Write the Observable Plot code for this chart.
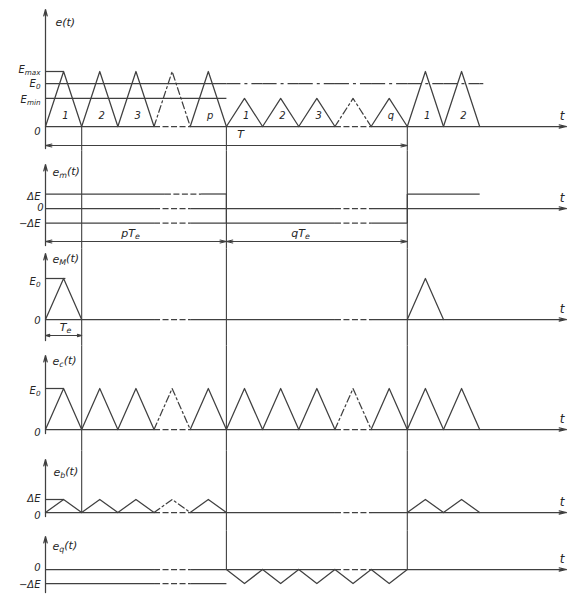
<!DOCTYPE html>
<html><head><meta charset="utf-8">
<script src="https://cdn.jsdelivr.net/npm/d3@7"></script>
<script src="https://cdn.jsdelivr.net/npm/@observablehq/plot@0.6"></script>
<style>
  body { margin: 0; background: #fff; }
  #chart svg { display: block; }
</style>
</head><body>
<div id="chart"></div>
<script>
// One triangular pulse per clock period Tₑ; x is measured in periods.
const periods = [0, 1, 2, 3, 4, 5, 6, 7, 8, 9, 10, 11];
// e(t): pulse heights in units of E_max (p large pulses, q small ones, then large again)
const ePeaks = [1, 1, 1, 1, 1, 0.51, 0.51, 0.51, 0.51, 0.51, 1, 1];
const pulseLabels = ["1", "2", "3", "", "p", "1", "2", "3", "", "q", "1", "2"];
const levelE0 = 0.78;
const levelEmin = 0.51;
// pulses drawn dashed: the elided middle of each group
const elided = [3, 8];
// group boundaries, in periods
const boundaries = [1, 5, 10];
// e_m(t): modulating step, in units of ΔE
const emFrom = [0, 5, 10];
const emTo = [5, 10, 12];
const emLevel = [1, -1, 1];
// e_M(t): pulses opening each group, in units of E₀
const eMPeaks = [1, 0, 0, 0, 0, 0, 0, 0, 0, 0, 1, 0];
// e_c(t): carrier pulses, in units of E₀
const ecPeaks = [1, 1, 1, 1, 1, 1, 1, 1, 1, 1, 1, 1];
// e_b(t) and e_q(t), in units of ΔE
const ebPeaks = [1, 1, 1, 1, 1, 0, 0, 0, 0, 0, 1, 1];
const eqPeaks = [0, 0, 0, 0, 0, -1, -1, -1, -1, -1, 0, 0];

const W = 571, ML = 45, MR = 5, XMAX = 14.4;
const ink = "#404040", lw = 1.25;
const u = px => (px - ML) * XMAX / (W - ML - MR);   // page x → periods

const head = {headLength: 9, headAngle: 26};

function waveMarks(peaks, dashed = elided) {
  const pts = periods.flatMap(i => peaks[i] === 0 ? [] : [
    {x: i, y: 0, k: i, d: dashed.includes(i)},
    {x: i + 0.5, y: peaks[i], k: i, d: dashed.includes(i)},
    {x: i + 1, y: 0, k: i, d: dashed.includes(i)}
  ]);
  return [
    Plot.line(pts.filter(p => !p.d), {x: "x", y: "y", z: "k", stroke: ink, strokeWidth: lw}),
    Plot.line(pts.filter(p => p.d), {x: "x", y: "y", z: "k", stroke: ink, strokeWidth: lw, strokeDasharray: "7,3,2,3"})
  ];
}

// horizontal line from x0 to x1 at level y; dashed across elided periods
function hline(y, x0, x1, {arrow = false, gaps = elided, dash = "6,2.5"} = {}) {
  const pieces = [];
  let start = x0;
  for (const g of gaps) {
    if (g + 1 <= x0 || g >= x1) continue;
    const a = Math.max(g, x0), b = Math.min(g + 1, x1);
    if (a > start) pieces.push({x1: start, x2: a, y, d: false});
    pieces.push({x1: a, x2: b, y, d: true});
    start = b;
  }
  if (start < x1) pieces.push({x1: start, x2: x1, y, d: false});
  const last = arrow ? pieces.pop() : null;
  const marks = [
    Plot.link(pieces.filter(p => !p.d), {x1: "x1", x2: "x2", y1: "y", y2: "y", stroke: ink, strokeWidth: lw}),
    Plot.link(pieces.filter(p => p.d), {x1: "x1", x2: "x2", y1: "y", y2: "y", stroke: ink, strokeWidth: lw, strokeDasharray: dash})
  ];
  if (last) marks.push(Plot.arrow([last], {x1: "x1", x2: "x2", y1: "y", y2: "y", stroke: ink, strokeWidth: lw, ...head}));
  return marks;
}

function label(data, opts) {
  return Plot.text(data, {text: "t", fill: "#262626", fontSize: 11, fontStyle: "italic", ...opts});
}

function panel({height, zero, one, axisTop, axisBottom, title, rules, build}) {
  const v = py => (zero - py) / (zero - one);       // local y → level
  const common = [
    // vertical axis with its arrow
    Plot.arrow([{y1: v(axisBottom), y2: v(axisTop)}], {x1: 0, x2: 0, y1: "y1", y2: "y2", stroke: ink, strokeWidth: lw, headLength: 8, headAngle: 30}),
    label([{x: u(title.x), y: v(title.y), t: title.t}], {x: "x", y: "y", textAnchor: "start"}),
    // group boundaries running through the panels
    Plot.link(rules.map(r => ({x: r.x, y1: v(r.from ?? 0), y2: v(r.to ?? height)})),
      {x1: "x", x2: "x", y1: "y1", y2: "y2", stroke: ink, strokeWidth: 1.1}),
    // time label at the end of the axis
    label([{x: XMAX - 0.12, y: 0, t: "t"}], {x: "x", y: "y", dy: -10, fontSize: 12})
  ];
  const svg = Plot.plot({
    width: W, height,
    marginLeft: ML, marginRight: MR, marginTop: one, marginBottom: height - zero,
    x: {domain: [0, XMAX], axis: null},
    y: {domain: [0, 1], axis: null},
    style: {background: "white", overflow: "visible", fontFamily: "DejaVu Sans, sans-serif"},
    marks: [...common, ...build(v)]
  });
  subscripts(svg);
  return svg;
}

// rewrite "X_sub rest" labels into tspans with a lowered subscript
function subscripts(svg) {
  const ns = "http://www.w3.org/2000/svg";
  svg.querySelectorAll("text").forEach(t => {
    if (t.querySelector("tspan")) return;
    const m = t.textContent.match(/^(.*?)_(\w+)(.*)$/);
    if (!m) return;
    t.textContent = "";
    const add = (s, attrs) => {
      const e = document.createElementNS(ns, "tspan");
      e.textContent = s;
      for (const k in attrs) e.setAttribute(k, attrs[k]);
      t.appendChild(e);
    };
    add(m[1], {});
    add(m[2], {"font-size": "72%", dy: "0.3em"});
    if (m[3]) add(m[3], {dy: "-0.3em"});
  });
}

const levelLabel = (y, t, dy = 0) => label([{x: 0, y, t}], {x: "x", y: "y", textAnchor: "end", dx: -5, dy, fontSize: 10});

const panels = [
  // e(t)
  panel({
    height: 150, zero: 126, one: 71, axisTop: 9, axisBottom: 148,
    title: {x: 55, y: 22, t: "e(t)"},
    rules: boundaries.map(x => ({x, from: 126})),
    build: v => [
      ...hline(1, 0, 0.5, {gaps: []}),
      ...hline(levelE0, 0, 5, {gaps: []}),
      ...hline(levelE0, 5, 12.1, {gaps: [5, 6, 7, 8, 9, 10, 11, 12], dash: "14,4,3,4"}),
      ...hline(levelEmin, 0, 5, {gaps: []}),
      ...waveMarks(ePeaks),
      ...hline(0, 0, XMAX, {arrow: true}),
      label(periods.map(i => ({x: i + 0.55, y: 0, t: pulseLabels[i]})), {x: "x", y: "y", dy: -11, fontSize: 10}),
      levelLabel(1, "E_max", -2), levelLabel(levelE0, "E_0"), levelLabel(levelEmin, "E_min", 1),
      label([{x: 0, y: 0, t: "0"}], {x: "x", y: "y", dx: -5, dy: 5, textAnchor: "end", fontSize: 10}),
      // period T of the whole cycle
      Plot.arrow([{a: 5, b: 0}, {a: 5, b: 10}], {x1: "a", x2: "b", y1: v(145), y2: v(145), stroke: ink, strokeWidth: 1.1, ...head}),
      label([{x: u(240), y: v(134), t: "T"}], {x: "x", y: "y"})
    ]
  }),
  // e_m(t)
  panel({
    height: 98, zero: 58, one: 43.5, axisTop: 14, axisBottom: 95,
    title: {x: 52, y: 22, t: "e_m(t)"},
    rules: boundaries.map(x => ({x})),
    build: v => [
      ...hline(-1, 0, 5),
      ...hline(0, 0, XMAX, {arrow: true}),
      ...emFrom.flatMap((f, i) => hline(emLevel[i], f, emTo[i], {gaps: i === 0 ? [3.3] : elided})),
      Plot.link(emFrom.slice(1).map((f, i) => ({x: f, a: emLevel[i], b: emLevel[i + 1]})),
        {x1: "x", x2: "x", y1: "a", y2: "b", stroke: ink, strokeWidth: lw}),
      levelLabel(1, "ΔE", 3), levelLabel(-1, "−ΔE", 1),
      label([{x: 0, y: 0, t: "0"}], {x: "x", y: "y", dx: -2, dy: -1, textAnchor: "end", fontSize: 10}),
      Plot.arrow([{a: 2.5, b: 0}, {a: 2.5, b: 5}, {a: 7.5, b: 5}, {a: 7.5, b: 10}],
        {x1: "a", x2: "b", y1: v(91), y2: v(91), stroke: ink, strokeWidth: 1.1, ...head}),
      label([{x: u(130), y: v(83), t: "pT_e"}, {x: u(300), y: v(83), t: "qT_e"}], {x: "x", y: "y"})
    ]
  }),
  // e_M(t)
  panel({
    height: 97, zero: 71, one: 30, axisTop: 5, axisBottom: 92,
    title: {x: 52, y: 11, t: "e_M(t)"},
    rules: boundaries.map(x => ({x})),
    build: v => [
      ...hline(1, 0, 0.55, {gaps: []}),
      ...waveMarks(eMPeaks),
      ...hline(0, 0, XMAX, {arrow: true}),
      levelLabel(1, "E_0", 3),
      label([{x: 0, y: 0, t: "0"}], {x: "x", y: "y", dx: -5, dy: 1, textAnchor: "end", fontSize: 10}),
      Plot.arrow([{a: 0.5, b: 0}, {a: 0.5, b: 1}], {x1: "a", x2: "b", y1: v(87), y2: v(87), stroke: ink, strokeWidth: 1.1, headLength: 6, headAngle: 30}),
      label([{x: u(65), y: v(79), t: "T_e"}], {x: "x", y: "y"})
    ]
  }),
  // e_c(t)
  panel({
    height: 105, zero: 84, one: 43, axisTop: 10, axisBottom: 88,
    title: {x: 52, y: 16, t: "e_c(t)"},
    rules: boundaries.map(x => ({x})),
    build: v => [
      ...hline(1, 0, 0.5, {gaps: []}),
      ...waveMarks(ecPeaks),
      ...hline(0, 0, XMAX, {arrow: true}),
      levelLabel(1, "E_0", 2),
      label([{x: 0, y: 0, t: "0"}], {x: "x", y: "y", dx: -5, dy: 3, textAnchor: "end", fontSize: 10})
    ]
  }),
  // e_b(t)
  panel({
    height: 80, zero: 62, one: 49, axisTop: 9, axisBottom: 66,
    title: {x: 53, y: 22, t: "e_b(t)"},
    rules: boundaries.map(x => ({x, to: x === 1 ? 62 : undefined})),
    build: v => [
      ...hline(1, 0, 0.5, {gaps: []}),
      ...waveMarks(ebPeaks, [3]),
      ...hline(0, 0, XMAX, {arrow: true}),
      levelLabel(1, "ΔE", -1),
      label([{x: 0, y: 0, t: "0"}], {x: "x", y: "y", dx: -5, dy: 3, textAnchor: "end", fontSize: 10})
    ]
  }),
  // e_q(t)
  panel({
    height: 64, zero: 39, one: 25, axisTop: 6, axisBottom: 62,
    title: {x: 52, y: 16, t: "e_q(t)"},
    rules: boundaries.filter(x => x > 1).map(x => ({x, to: 39})),
    build: v => [
      ...hline(-1, 0, 5),
      ...waveMarks(eqPeaks, []),
      ...hline(0, 0, XMAX, {arrow: true}),
      levelLabel(-1, "−ΔE", 1),
      label([{x: 0, y: 0, t: "0"}], {x: "x", y: "y", dx: -5, dy: -2, textAnchor: "end", fontSize: 10})
    ]
  })
];

const root = document.getElementById("chart");
panels.forEach(svg => root.appendChild(svg));
</script>
</body></html>
